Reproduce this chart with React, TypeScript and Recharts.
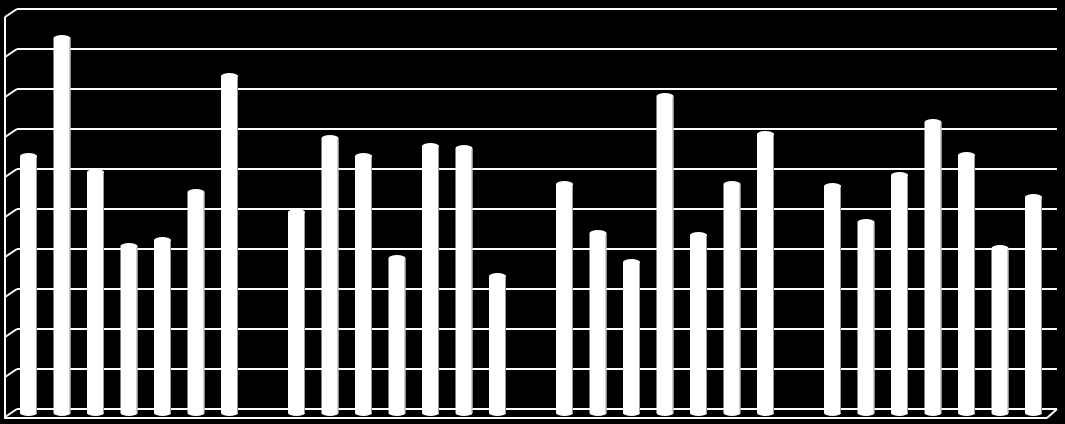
import { BarChart, Bar, XAxis, YAxis, CartesianGrid } from 'recharts'

// four groups, seven bars in each
const groups = ['1', '2', '3', '4']
const s1 = [64, 50, 57, 56.5]
const s2 = [93.5, 68.5, 44.75, 47.5]
const s3 = [60, 64, 37.5, 59.25]
const s4 = [41.5, 38.5, 79, 72.5]
const s5 = [43, 66.5, 44.25, 64.25]
const s6 = [55, 66, 57, 41]
const s7 = [84, 34, 69.5, 53.75]
const yTicks = [0, 10, 20, 30, 40, 50, 60, 70, 80, 90, 100]

const series = [s1, s2, s3, s4, s5, s6, s7]
const data = groups.map((g, i) => {
  const row: Record<string, string | number> = { name: g }
  series.forEach((s, k) => { row[`s${k + 1}`] = s[i] })
  return row
})

// cylinder look: rounded top and a bit of the base sticking out below the floor line
const Cylinder = (props: any) => {
  const { x, y, width, height } = props
  if (!width || height == null) return null
  const rx = width / 2
  const ry = 3
  const bottom = y + height + 7
  const d = `M${x},${y + ry} A${rx},${ry} 0 0 1 ${x + width},${y + ry} L${x + width},${bottom - ry} A${rx},${ry} 0 0 1 ${x},${bottom - ry} Z`
  return (
    <g>
      <path d={d} fill="#ffffff" />
      <line x1={x + width - 0.5} y1={y + ry + 1} x2={x + width - 0.5} y2={bottom - ry} stroke="#9a9a9a" strokeWidth={1} />
    </g>
  )
}

const GridLine = (p: any) => (
  <g key={p.key}>
    <line x1={p.x1} y1={p.y1} x2={p.x2} y2={p.y2} stroke="#ffffff" strokeWidth={2} />
    <line x1={p.x1 - 12} y1={p.y1 + 8} x2={p.x1} y2={p.y1} stroke="#ffffff" strokeWidth={2} />
  </g>
)

export default function App() {
  return (
    <div style={{ position: 'absolute', left: 0, top: 0, width: 1065, height: 424, background: '#000' }}>
      {/* side wall and floor edge */}
      <svg width={1065} height={424} style={{ position: 'absolute', left: 0, top: 0 }}>
        <line x1={5} y1={17} x2={5} y2={418} stroke="#ffffff" strokeWidth={2} />
        <line x1={4} y1={418} x2={1047} y2={418} stroke="#ffffff" strokeWidth={2} />
        <line x1={1047} y1={418} x2={1057} y2={409} stroke="#ffffff" strokeWidth={2} />
      </svg>
      <div style={{ position: 'absolute', left: 0, top: 0 }}>
        <BarChart width={1065} height={424} data={data} margin={{ top: 9, bottom: 15, left: -5, right: -2 }} barSize={17} barGap={16.5}>
          <CartesianGrid x={17} width={1040} vertical={false} horizontal={GridLine} />
          <XAxis dataKey="name" hide />
          <YAxis hide domain={[0, 100]} ticks={yTicks} />
          {series.map((_, k) => (
            <Bar key={k} dataKey={`s${k + 1}`} shape={Cylinder} isAnimationActive={false} />
          ))}
        </BarChart>
      </div>
    </div>
  )
}
